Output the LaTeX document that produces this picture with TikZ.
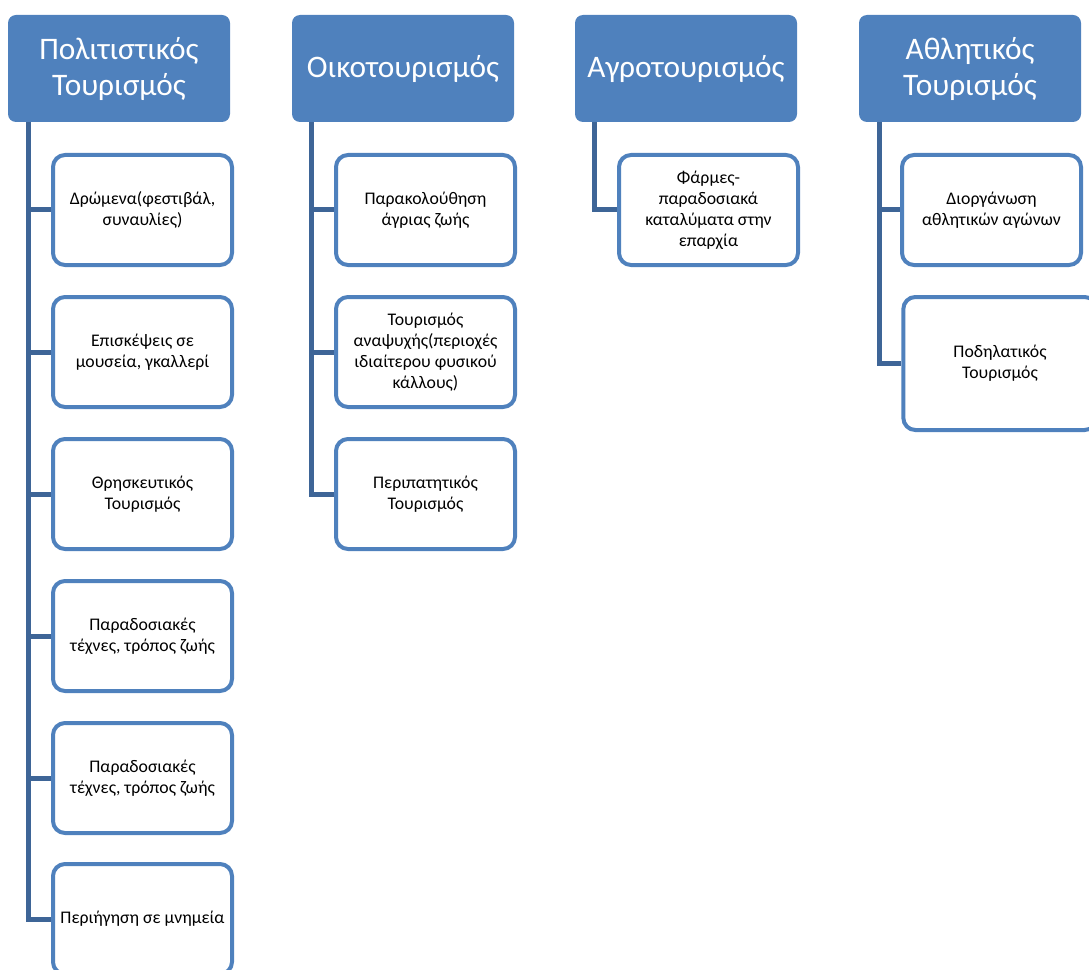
\documentclass[tikz,border=0pt]{standalone}
\usepackage{fontspec}
\setmainfont{Carlito}
\usetikzlibrary{backgrounds}
\definecolor{hdrblue}{HTML}{4F81BD}
\definecolor{linkblue}{HTML}{3E6597}

\begin{document}
\begin{tikzpicture}[x=0.75pt, y=-0.75pt,
  header/.style={fill=hdrblue, rounded corners=6pt, minimum width=166.5pt, minimum height=80.25pt,
    text=white, align=center, font=\fontsize{23.5}{27}\selectfont},
  item/.style={draw=hdrblue, line width=3pt, fill=white, rounded corners=9pt, minimum width=134.25pt,
    minimum height=82.5pt, inner xsep=1pt, align=center, font=\fontsize{13.3}{15.75}\selectfont},
  branch/.style={draw=linkblue, line width=3.75pt, line join=miter}]
      \useasboundingbox (0,0) rectangle (1089,970);
      \node[header] (pol) at (119, 68.5) {Πολιτιστικός\\Τουρισμός};
      \node[header] (oik) at (403, 68.5) {Οικοτουρισμός};
      \node[header] (agr) at (686, 68.5) {Αγροτουρισμός};
      \node[header] (ath) at (970, 68.5) {Αθλητικός\\Τουρισμός};
      \node[item] (pol1) at (142.5, 210) {Δρώμενα(φεστιβάλ,\\συναυλίες)};
      \node[item] (pol2) at (142.5, 352) {Επισκέψεις σε\\μουσεία, γκαλλερί};
      \node[item] (pol3) at (142.5, 494) {Θρησκευτικός\\Τουρισμός};
      \node[item] (pol4) at (142.5, 636) {Παραδοσιακές\\τέχνες, τρόπος ζωής};
      \node[item] (pol5) at (142.5, 778) {Παραδοσιακές\\τέχνες, τρόπος ζωής};
      \node[item] (pol6) at (142.5, 919) {Περιήγηση σε μνημεία};
      \node[item] (oik1) at (425.5, 210) {Παρακολούθηση\\άγριας ζωής};
      \node[item] (oik2) at (425.5, 352) {Τουρισμός\\αναψυχής(περιοχές\\ιδιαίτερου φυσικού\\κάλλους)};
      \node[item] (oik3) at (425.5, 494) {Περιπατητικός\\Τουρισμός};
      \node[item] (agr1) at (708.5, 210) {Φάρμες-\\παραδοσιακά\\καταλύματα στην\\επαρχία};
      \node[item] (ath1) at (991.5, 210) {Διοργάνωση\\αθλητικών αγώνων};
      \node[item, minimum width=145pt, minimum height=99.75pt] (ath2) at (1000, 363.5) {Ποδηλατικός\\Τουρισμός};
      \begin{scope}[on background layer]
        \foreach \i in {1,...,6}
          \draw[branch] ([xshift=15.75pt]pol.south west) |- (pol\i.west);
        \foreach \i in {1,2,3}
          \draw[branch] ([xshift=15pt]oik.south west) |- (oik\i.west);
        \draw[branch] ([xshift=15pt]agr.south west) |- (agr1.west);
        \foreach \i in {1,2}
          \draw[branch] ([xshift=15.75pt]ath.south west) |- (ath\i.west);
      \end{scope}
    \end{tikzpicture}
\end{document}
